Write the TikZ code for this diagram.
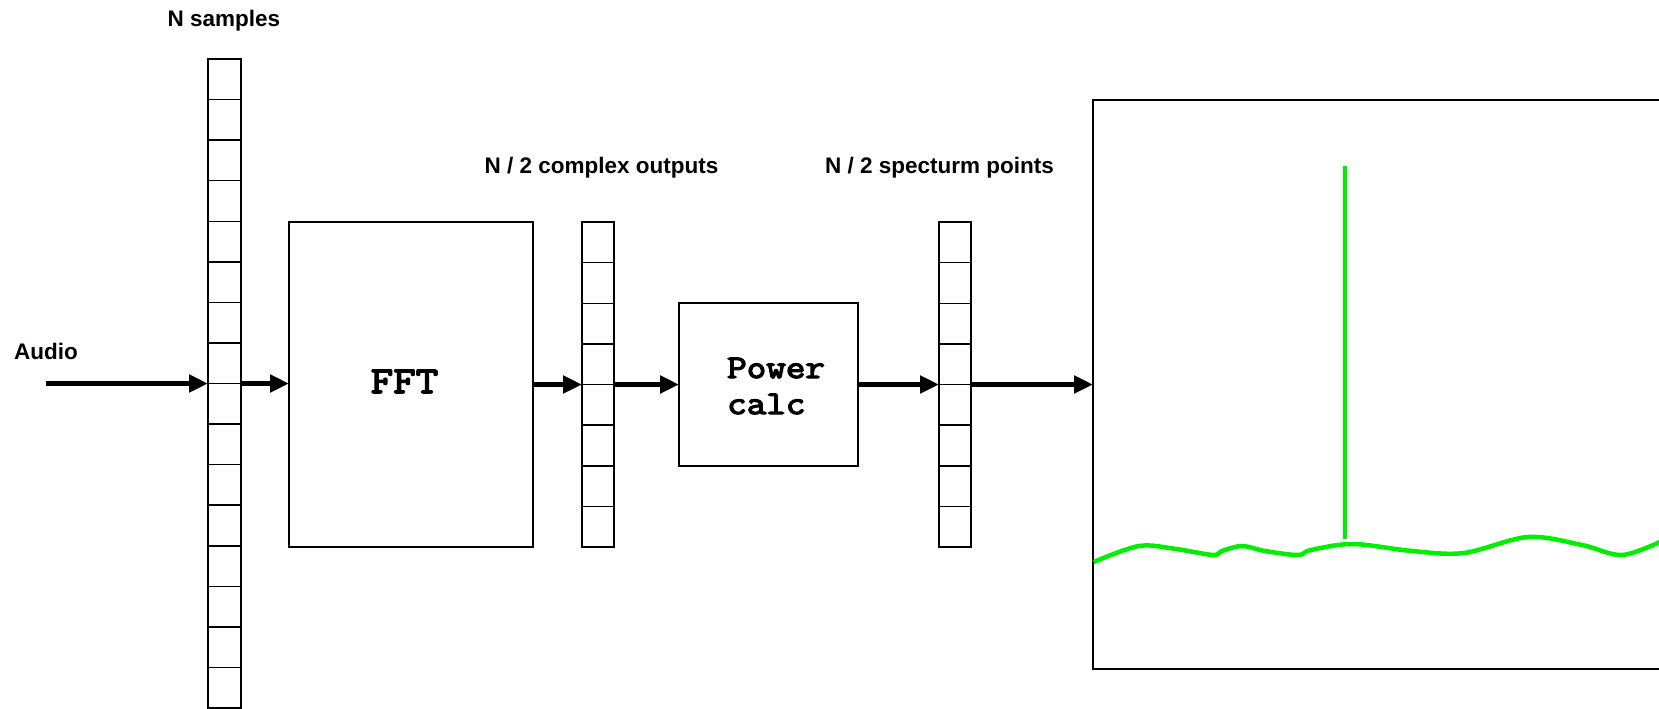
\documentclass[tikz,border=0pt]{standalone}
\usepackage{fontspec}
\setmainfont{Liberation Sans}
\newfontfamily\courfont[FakeBold=4,FakeStretch=1.15]{Latin Modern Mono}
\usetikzlibrary{arrows.meta,calc}
\definecolor{specgreen}{RGB}{0,238,0}
\begin{document}
\begin{tikzpicture}[x=1pt,y=-1pt,
  boxline/.style={draw=black,line width=1.5pt},
  cellcol/.style={boxline,inner sep=0pt,outer sep=0pt,minimum width=33pt},
  block/.style={boxline,inner sep=0pt,outer sep=0pt},
  flow/.style={line width=5pt,-{Triangle[length=19pt,width=17pt]}},
  lbl/.style={font=\bfseries\fontsize{22.5}{27}\selectfont,inner sep=0pt},
  mono/.style={inner sep=0pt,font=\courfont\fontsize{33}{36}\selectfont},
  trace/.style={draw=specgreen,line width=4.5pt}
]
\useasboundingbox (0,0) rectangle (1659,709);

% sample columns
\node[cellcol,minimum height=649pt] (col1) at (224.5,383.5) {};
\foreach \i in {1,...,15}
  \draw[boxline] ($(col1.north west)!\i/16!(col1.south west)$) -- ($(col1.north east)!\i/16!(col1.south east)$);
\node[cellcol,minimum width=32pt,minimum height=325pt] (col2) at (598,384.5) {};
\foreach \i in {1,...,7}
  \draw[boxline] ($(col2.north west)!\i/8!(col2.south west)$) -- ($(col2.north east)!\i/8!(col2.south east)$);
\node[cellcol,minimum width=32pt,minimum height=325pt] (col3) at (955,384.5) {};
\foreach \i in {1,...,7}
  \draw[boxline] ($(col3.north west)!\i/8!(col3.south west)$) -- ($(col3.north east)!\i/8!(col3.south east)$);

% blocks
\node[block,minimum width=244pt,minimum height=325pt] (fft) at (411,384.5) {};
\node[block,minimum width=179pt,minimum height=163pt] (pwr) at (768.5,384.5) {};
\node[block,minimum width=572pt,minimum height=569pt] (disp) at (1379,384.5) {};

% texts
\node[lbl,anchor=base] (nsamp) at (224,27) {N samples};
\node[lbl,anchor=base west] (audio) at (14,359) {Audio};
\node[lbl,anchor=base] (cplx) at (601.5,173) {N / 2 complex outputs};
\node[lbl,anchor=base] (spec) at (939.5,173) {N / 2 specturm points};
\node[mono,font=\courfont\fontsize{38}{40}\selectfont,anchor=base] (ffttxt) at (404.5,393) {FFT};
\node[mono,anchor=base west] (pwrtxt) at (727,378) {\begin{tabular}[t]{@{}l@{}}Power\\calc\end{tabular}};

% flow arrows
\coordinate (src) at (46,383.5);
\draw[flow] (src) -- (col1.west);
\draw[flow] (col1.east) -- (col1.east -| fft.west);
\draw[flow] (fft.east) -- (col2.west);
\draw[flow] (col2.east) -- (pwr.west);
\draw[flow] (pwr.east) -- (col3.west);
\draw[flow] (col3.east) -- (disp.west);

% spectrum trace
\coordinate (pk1) at (1345,166);
\coordinate (pk2) at (1345,539);
\draw[trace] (pk1) -- (pk2);
\draw[trace] plot[smooth,tension=0.55] coordinates {(1093.7,562) (1139,546) (1176,549) (1213,555) (1222,551) (1242,546) (1265,551) (1298,555) (1311,550) (1353,544) (1412,551) (1464,553) (1528,537) (1582,545) (1622,555) (1662,541)};
\end{tikzpicture}
\end{document}
